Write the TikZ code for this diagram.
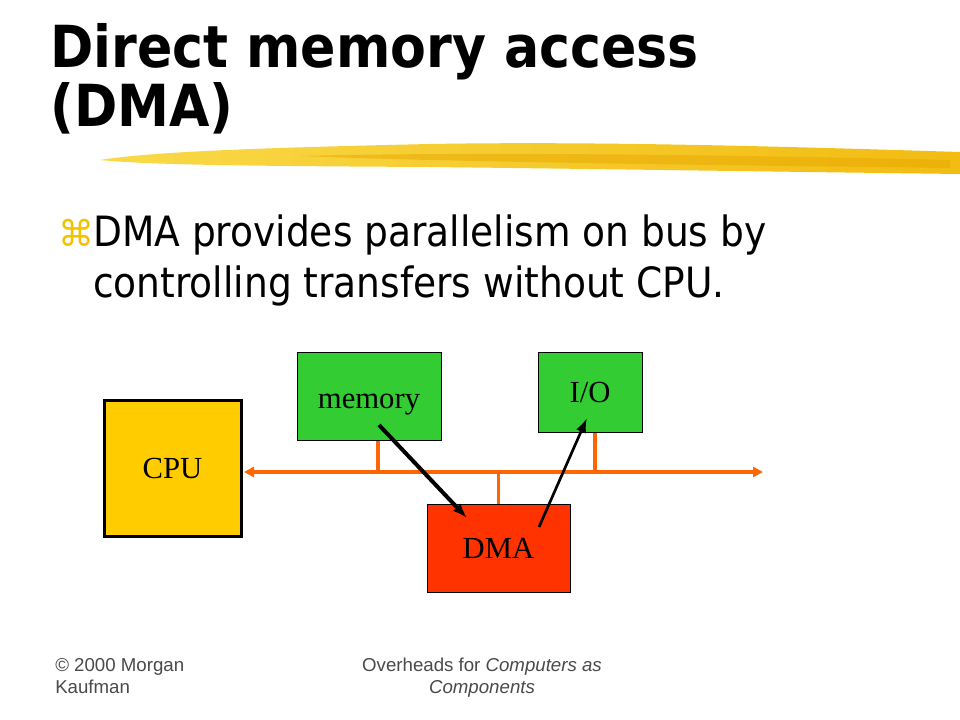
\documentclass[tikz,border=0pt]{standalone}
\usepackage{fontspec}
\setmainfont{Liberation Serif}
\newfontfamily\headfont{DejaVu Sans Condensed}
\newfontfamily\symfont{DejaVu Sans}
\newfontfamily\footfont{Liberation Sans}
\usetikzlibrary{arrows.meta}
\definecolor{cpuyellow}{HTML}{FFCC00}
\definecolor{boxgreen}{HTML}{33CC33}
\definecolor{dmared}{HTML}{FF3300}
\definecolor{busorange}{HTML}{FF6600}
\definecolor{brushlight}{HTML}{F9D948}
\definecolor{brushgold}{HTML}{F2BC12}
\definecolor{brushdark}{HTML}{E8A800}
\definecolor{bulletyellow}{HTML}{F2C200}
\definecolor{footgray}{HTML}{4A4A4A}
\tikzstyle{unit} = [rectangle, draw=black, line width=0.75, inner sep=0pt, text centered, font=\fontsize{23}{27}\selectfont]
\tikzstyle{bus} = [draw=busorange, line width=2.4]
\tikzstyle{flow} = [draw=black, -{Latex[length=11pt, width=8pt]}]
\tikzstyle{heading} = [anchor=base west, inner sep=0pt, font=\headfont\bfseries\fontsize{43.5}{52}\selectfont]
\tikzstyle{bodyline} = [anchor=base west, inner sep=0pt, font=\headfont\fontsize{31.3}{37}\selectfont]
\tikzstyle{footline} = [inner sep=0pt, text=footgray, font=\footfont\fontsize{14}{17}\selectfont]

\begin{document}
\begin{tikzpicture}[x=0.75pt, y=-0.75pt]
\useasboundingbox (0,0) rectangle (960,720);
\fill[white] (0,0) rectangle (960,720);
% brush stroke under the title
\shade[left color=brushlight, right color=brushgold] (100,160) .. controls (150,152) and (250,148) .. (430,144) .. controls (600,141) and (800,147) .. (960,152) -- (960,174) .. controls (800,172) and (600,169) .. (430,167) .. controls (250,166) and (150,165) .. (100,160) -- cycle;
\fill[brushdark, opacity=0.5] (300,156) .. controls (450,152) and (700,154) .. (950,160) -- (950,168) .. controls (700,165) and (450,162) .. (300,156) -- cycle;
% title and text
\node (titleTop) [heading] at (50,68) {Direct memory access};
\node (titleBottom) [heading] at (50,127) {(DMA)};
\node (bullet) [anchor=base west, inner sep=0pt, text=bulletyellow, font=\symfont\fontsize{27}{32}\selectfont] at (58,247) {⌘};
\node (lineOne) [bodyline] at (93,247) {DMA provides parallelism on bus by};
\node (lineTwo) [bodyline] at (93,297) {controlling transfers without CPU.};
% units
\node (cpuBox) [unit, fill=cpuyellow, line width=2.25, minimum width=102.75pt, minimum height=102pt] at (172.5,468) {CPU};
\node (memoryBox) [unit, fill=boxgreen, minimum width=108pt, minimum height=66pt] at (369,396) {\raisebox{-9pt}[0pt][0pt]{memory}};
\node (ioBox) [unit, fill=boxgreen, minimum width=78pt, minimum height=60pt] at (590,392) {I/O};
\node (dmaBox) [unit, fill=dmared, minimum width=107.25pt, minimum height=66pt] at (498.5,548) {DMA};
% bus
\coordinate (busEnd) at (763,472);
\draw [bus, {Triangle[length=7.5pt, width=7.5pt]}-{Triangle[length=7.5pt, width=7.5pt]}] (cpuBox.east |- busEnd) ++(1.5,0) -- (busEnd);
\draw [bus] ([xshift=6.75pt]memoryBox.south) -- ([xshift=6.75pt]memoryBox.south |- busEnd);
\draw [bus] ([xshift=3.75pt]ioBox.south) -- ([xshift=3.75pt]ioBox.south |- busEnd);
\draw [bus] (dmaBox.north) -- (dmaBox.north |- busEnd);
% transfers
\draw [flow, line width=3] ([shift={(10,29)}]memoryBox.center) -- ([shift={(-31.5,-30)}]dmaBox.center);
\draw [flow, line width=2] ([shift={(40.5,-21)}]dmaBox.center) -- ([shift={(-3,26)}]ioBox.center);
% footer
\node (credit) [footline, anchor=base west] at (55,671) {© 2000 Morgan};
\node (creditName) [footline, anchor=base west] at (55,693) {Kaufman};
\node (source) [footline, anchor=base] at (482,671) {Overheads for \textit{Computers as}};
\node (sourceName) [footline, anchor=base] at (482,693) {\textit{Components}};
\end{tikzpicture}
\end{document}
